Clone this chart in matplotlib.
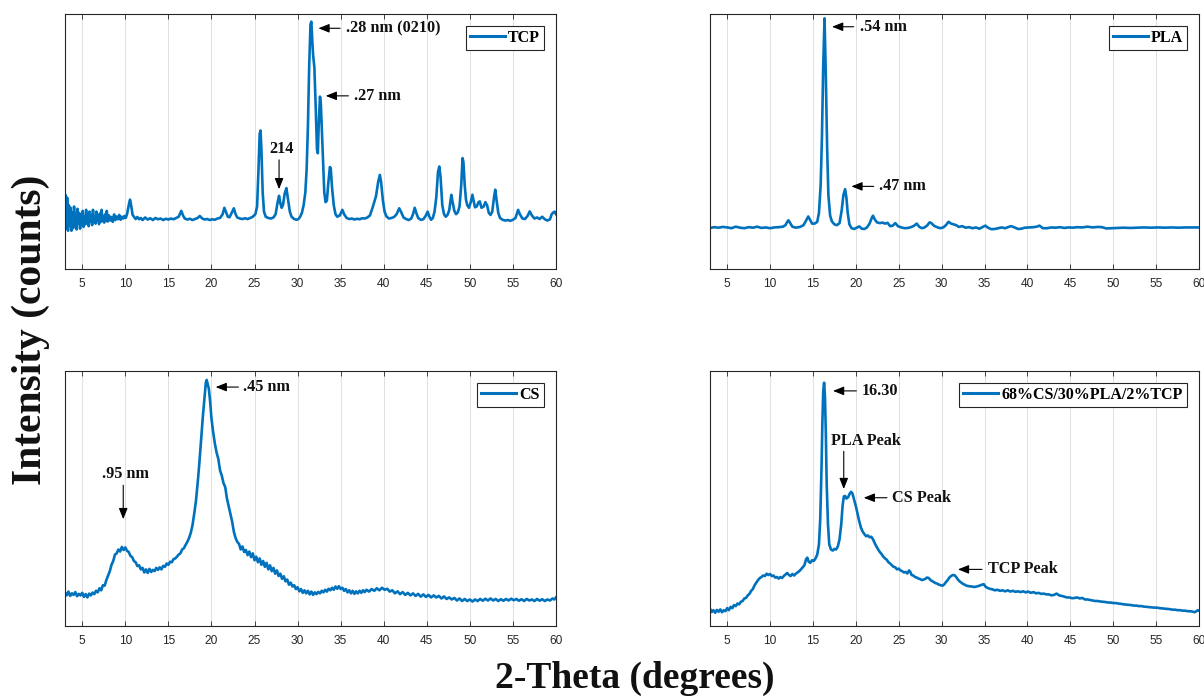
import matplotlib
matplotlib.use("Agg")
import matplotlib.pyplot as plt
import numpy as np

# ---------------- data (2-theta in degrees, intensity in arbitrary counts) ----------------
tcp_x = [3.0, 3.08, 3.15, 3.25, 3.35, 3.45, 3.55, 3.65, 3.75, 3.85, 3.95, 4.05, 4.15, 4.25, 4.35, 4.45,
         4.55, 4.65, 4.75, 4.85, 4.95, 5.05, 5.15, 5.25, 5.35, 5.45, 5.55, 5.65, 5.75, 5.85, 5.95, 6.05,
         6.15, 6.25, 6.35, 6.45, 6.55, 6.65, 6.75, 6.85, 6.95, 7.05, 7.15, 7.25, 7.35, 7.45, 7.55, 7.65,
         7.75, 7.85, 7.95, 8.1, 8.25, 8.4, 8.55, 8.7, 8.85, 9.0, 9.15, 9.3, 9.45, 9.6, 9.75, 9.9, 10.05,
         10.2, 10.4, 10.55, 10.7, 10.85, 11.0, 11.2, 11.4, 11.6, 11.8, 12.0, 12.3, 12.6, 12.9, 13.2, 13.5,
         13.8, 14.1, 14.4, 14.7, 15.0, 15.3, 15.6, 15.9, 16.2, 16.5, 16.7, 16.9, 17.2, 17.5, 17.8, 18.1,
         18.4, 18.65, 18.9, 19.2, 19.5, 19.8, 20.1, 20.4, 20.7, 21.0, 21.3, 21.5, 21.7, 21.9, 22.1, 22.35,
         22.6, 22.8, 23.0, 23.3, 23.6, 23.9, 24.2, 24.5, 24.8, 25.1, 25.3, 25.45, 25.6, 25.7, 25.8, 25.95,
         26.1, 26.3, 26.6, 26.9, 27.2, 27.45, 27.7, 27.85, 28.0, 28.15, 28.3, 28.5, 28.7, 28.9, 29.1, 29.3,
         29.6, 29.9, 30.1, 30.3, 30.5, 30.7, 30.9, 31.05, 31.2, 31.35, 31.5, 31.6, 31.7, 31.8, 31.95, 32.1,
         32.25, 32.35, 32.45, 32.6, 32.7, 32.8, 32.95, 33.1, 33.25, 33.4, 33.55, 33.75, 33.85, 34.0, 34.2,
         34.4, 34.6, 34.9, 35.2, 35.4, 35.7, 36.0, 36.3, 36.6, 36.9, 37.2, 37.5, 37.8, 38.1, 38.4, 38.7,
         38.9, 39.1, 39.35, 39.55, 39.7, 39.9, 40.1, 40.3, 40.6, 40.9, 41.2, 41.5, 41.8, 42.0, 42.3, 42.6,
         42.9, 43.2, 43.4, 43.6, 43.8, 44.0, 44.3, 44.6, 44.9, 45.1, 45.3, 45.5, 45.7, 45.9, 46.1, 46.3,
         46.45, 46.6, 46.8, 47.0, 47.2, 47.4, 47.6, 47.85, 48.0, 48.2, 48.4, 48.6, 48.8, 49.0, 49.15, 49.25,
         49.4, 49.55, 49.7, 49.9, 50.1, 50.3, 50.45, 50.6, 50.8, 51.0, 51.15, 51.35, 51.6, 51.8, 52.0, 52.2,
         52.4, 52.6, 52.8, 52.95, 53.1, 53.3, 53.5, 53.8, 54.1, 54.4, 54.7, 55.0, 55.3, 55.6, 55.8, 56.1,
         56.4, 56.7, 56.95, 57.2, 57.5, 57.8, 58.1, 58.4, 58.7, 59.0, 59.3, 59.5, 59.7, 59.85, 60.0]
tcp_y = [220, 290, 160, 280, 150, 250, 172, 240, 150, 222, 160, 245, 170, 218, 155, 236,
         178, 220, 158, 212, 175, 228, 165, 205, 175, 232, 180, 215, 168, 225, 186, 212,
         172, 232, 185, 206, 178, 225, 190, 210, 176, 218, 185, 232, 188, 205, 182, 214,
         192, 228, 186, 210, 190, 204, 185, 214, 192, 206, 195, 212, 193, 205, 198, 208, 200,
         215, 250, 272, 245, 212, 205, 196, 204, 195, 200, 192, 202, 194, 199, 192, 200,
         195, 198, 192, 197, 194, 198, 195, 200, 205, 228, 210, 198, 194, 197, 192, 196,
         200, 208, 199, 194, 196, 192, 195, 193, 198, 200, 215, 240, 222, 205, 203, 220,
         238, 215, 202, 198, 196, 199, 196, 200, 205, 215, 245, 380, 530, 543, 470, 300,
         225, 205, 200, 198, 202, 215, 265, 287, 258, 240, 250, 295, 317, 270, 225, 205,
         196, 193, 196, 205, 220, 250, 300, 390, 560, 800, 960, 970, 900, 840, 790, 640,
         470, 454, 560, 676, 650, 560, 420, 300, 262, 268, 330, 400, 395, 320, 250,
         215, 205, 210, 232, 215, 200, 196, 198, 194, 197, 195, 199, 198, 202, 210, 240,
         262, 285, 340, 369, 340, 270, 225, 207, 198, 200, 204, 215, 238, 225, 202, 196,
         192, 198, 215, 240, 218, 200, 193, 195, 210, 225, 205, 193, 200, 225, 280, 380,
         402, 360, 250, 215, 205, 212, 230, 291, 262, 228, 215, 222, 245, 330, 435, 420,
         330, 272, 250, 240, 262, 291, 265, 242, 245, 262, 265, 240, 245, 262, 250, 220,
         212, 225, 280, 311, 270, 220, 200, 193, 190, 192, 189, 193, 200, 232, 215, 198,
         196, 208, 226, 210, 198, 202, 196, 205, 195, 190, 195, 215, 222, 225, 215]

pla_x = [3.0, 3.5, 4.0, 4.5, 5.0, 5.5, 6.0, 6.5, 7.0, 7.5, 8.0, 8.5, 9.0, 9.5, 10.0, 10.5, 11.0, 11.5,
         11.8, 12.0, 12.15, 12.35, 12.6, 13.0, 13.5, 13.9, 14.2, 14.45, 14.7, 14.9, 15.2, 15.5, 15.7, 15.9,
         16.05, 16.2, 16.35, 16.5, 16.65, 16.8, 17.0, 17.2, 17.5, 17.8, 18.1, 18.35, 18.55, 18.75, 18.9,
         19.05, 19.25, 19.5, 19.8, 20.1, 20.4, 20.7, 21.0, 21.3, 21.6, 21.85, 22.0, 22.2, 22.45, 22.8, 23.1,
         23.4, 23.7, 24.0, 24.3, 24.6, 24.9, 25.3, 25.7, 26.1, 26.5, 26.8, 27.1, 27.4, 27.7, 28.0, 28.3,
         28.6, 28.8, 29.1, 29.4, 29.8, 30.2, 30.5, 30.8, 31.1, 31.4, 31.7, 32.0, 32.4, 32.8, 33.2, 33.6,
         34.0, 34.4, 34.8, 35.1, 35.4, 35.8, 36.2, 36.6, 37.0, 37.4, 37.8, 38.1, 38.5, 38.9, 39.3, 39.7,
         40.2, 40.7, 41.1, 41.4, 41.8, 42.3, 42.8, 43.3, 43.8, 44.3, 44.8, 45.3, 45.8, 46.4, 47.0, 47.6,
         48.2, 48.7, 49.2, 49.8, 50.5, 51.2, 52.0, 52.8, 53.6, 54.4, 55.2, 56.0, 56.8, 57.6, 58.4, 59.2, 60.0]
pla_y = [161, 164, 162, 165, 163, 160, 166, 162, 160, 164, 162, 166, 161, 163, 160, 163, 164, 166,
         172, 185, 191, 180, 166, 162, 165, 172, 190, 206, 190, 178, 178, 185, 220, 330,
         520, 800, 983, 760, 480, 290, 210, 187, 175, 172, 180, 230, 290, 313, 280,
         220, 175, 160, 157, 162, 167, 158, 157, 163, 178, 200, 209, 195, 183, 180, 182,
         178, 181, 168, 170, 180, 168, 163, 160, 161, 165, 170, 178, 165, 160, 163, 170,
         183, 180, 170, 165, 160, 163, 172, 185, 178, 175, 172, 165, 168, 162, 164, 160,
         163, 158, 165, 170, 162, 156, 157, 160, 163, 160, 165, 168, 163, 157, 158, 162,
         163, 164, 166, 170, 160, 160, 163, 162, 164, 161, 163, 162, 164, 163, 166, 163,
         165, 164, 159, 160, 161, 162, 161, 162, 163, 162, 163, 162, 163, 162, 163, 163, 163]

cs_x = [3.0, 3.2, 3.4, 3.6, 3.8, 4.0, 4.2, 4.4, 4.6, 4.8, 5.0, 5.2, 5.4, 5.6, 5.8, 6.0, 6.2, 6.4, 6.6,
        6.8, 7.0, 7.2, 7.4, 7.6, 7.8, 8.0, 8.2, 8.4, 8.6, 8.8, 9.0, 9.2, 9.4, 9.6, 9.8, 10.0, 10.2, 10.4,
        10.6, 10.8, 11.0, 11.2, 11.4, 11.6, 11.8, 12.0, 12.2, 12.4, 12.6, 12.8, 13.0, 13.2, 13.4, 13.6,
        13.8, 14.0, 14.2, 14.4, 14.6, 14.8, 15.0, 15.2, 15.4, 15.6, 15.8, 16.0, 16.2, 16.4, 16.6, 16.8,
        17.0, 17.2, 17.4, 17.6, 17.8, 18.0, 18.2, 18.4, 18.6, 18.8, 19.0, 19.2, 19.35, 19.45, 19.55, 19.7,
        19.85, 20.0, 20.2, 20.4, 20.6, 20.8, 21.0, 21.2, 21.4, 21.6, 21.8, 22.0, 22.2, 22.4, 22.6, 22.8,
        23.0, 23.2, 23.4, 23.6, 23.8, 24.0, 24.2, 24.4, 24.6, 24.8, 25.0, 25.2, 25.4, 25.6, 25.8, 26.0,
        26.2, 26.4, 26.6, 26.8, 27.0, 27.2, 27.4, 27.6, 27.8, 28.0, 28.2, 28.4, 28.6, 28.8, 29.0, 29.2,
        29.4, 29.6, 29.8, 30.0, 30.2, 30.4, 30.6, 30.8, 31.0, 31.2, 31.4, 31.6, 31.8, 32.0, 32.2, 32.4,
        32.6, 32.8, 33.0, 33.2, 33.4, 33.6, 33.8, 34.0, 34.2, 34.4, 34.6, 34.8, 35.0, 35.2, 35.4, 35.6,
        35.8, 36.0, 36.2, 36.4, 36.6, 36.8, 37.0, 37.2, 37.4, 37.6, 37.8, 38.0, 38.3, 38.6, 38.9, 39.2,
        39.5, 39.8, 40.1, 40.4, 40.7, 41.0, 41.3, 41.6, 41.9, 42.2, 42.5, 42.8, 43.1, 43.4, 43.7, 44.0,
        44.3, 44.6, 44.9, 45.2, 45.5, 45.8, 46.1, 46.4, 46.7, 47.0, 47.3, 47.6, 47.9, 48.2, 48.5, 48.8,
        49.1, 49.4, 49.7, 50.0, 50.3, 50.6, 50.9, 51.2, 51.5, 51.8, 52.1, 52.4, 52.7, 53.0, 53.3, 53.6,
        53.9, 54.2, 54.5, 54.8, 55.1, 55.4, 55.7, 56.0, 56.3, 56.6, 56.9, 57.2, 57.5, 57.8, 58.1, 58.4,
        58.7, 59.0, 59.3, 59.6, 59.8, 60.0]
cs_y = [132, 120, 135, 118, 128, 122, 133, 117, 126, 120, 130, 114, 125, 112, 127, 120, 131, 125, 138,
        132, 148, 140, 160, 158, 180, 198, 215, 240, 255, 280, 285, 300, 292, 310, 298, 308, 295, 290,
        275, 270, 255, 250, 235, 238, 222, 228, 210, 222, 208, 224, 212, 220, 215, 228,
        220, 230, 222, 236, 232, 245, 240, 252, 250, 262, 265, 272, 280, 285, 300, 305,
        318, 330, 345, 365, 395, 440, 490, 560, 640, 730, 820, 900, 955, 965, 950, 930,
        880, 815, 760, 715, 680, 655, 610, 590, 560, 545, 500, 470, 440, 410, 370, 345,
        330, 322, 300, 312, 290, 298, 278, 292, 270, 285, 258, 272, 250, 265, 240, 255,
        232, 248, 222, 238, 215, 228, 205, 218, 196, 205, 185, 195, 175, 182, 162, 170,
        155, 160, 145, 152, 136, 145, 130, 140, 128, 138, 124, 135, 122, 132, 125, 134,
        128, 138, 132, 142, 135, 146, 140, 150, 142, 155, 146, 156, 145, 150, 138, 145,
        132, 140, 128, 138, 126, 136, 128, 138, 130, 140, 133, 142, 135, 145, 138, 148,
        140, 150, 142, 146, 135, 140, 128, 136, 125, 133, 122, 130, 120, 128, 118, 126,
        115, 124, 114, 122, 112, 120, 112, 118, 108, 116, 106, 112, 104, 110, 100, 108,
        98, 106, 98, 104, 96, 104, 98, 106, 99, 107, 100, 108, 100, 106, 98, 105,
        99, 106, 100, 107, 101, 106, 99, 105, 98, 106, 100, 104, 98, 106, 99, 105,
        98, 104, 100, 108, 104, 112]

mix_x = [3.0, 3.2, 3.4, 3.6, 3.8, 4.0, 4.2, 4.4, 4.6, 4.8, 5.0, 5.2, 5.4, 5.6, 5.8, 6.0, 6.2, 6.4, 6.6,
         6.8, 7.0, 7.2, 7.4, 7.6, 7.8, 8.0, 8.2, 8.4, 8.6, 8.8, 9.0, 9.2, 9.4, 9.6, 9.8, 10.0, 10.2, 10.4,
         10.6, 10.8, 11.0, 11.2, 11.4, 11.6, 11.8, 12.0, 12.2, 12.4, 12.6, 12.8, 13.0, 13.2, 13.4, 13.6,
         13.8, 14.0, 14.2, 14.35, 14.5, 14.7, 14.9, 15.1, 15.3, 15.5, 15.7, 15.85, 16.0, 16.1, 16.2, 16.3,
         16.4, 16.5, 16.6, 16.75, 16.9, 17.1, 17.3, 17.5, 17.7, 17.9, 18.1, 18.3, 18.45, 18.6, 18.75, 18.9,
         19.1, 19.3, 19.45, 19.6, 19.8, 20.0, 20.2, 20.4, 20.6, 20.8, 21.0, 21.2, 21.4, 21.6, 21.8, 22.0,
         22.2, 22.4, 22.6, 22.8, 23.0, 23.2, 23.4, 23.6, 23.8, 24.0, 24.2, 24.4, 24.6, 24.8, 25.0, 25.2,
         25.4, 25.6, 25.8, 26.0, 26.2, 26.35, 26.5, 26.7, 26.9, 27.1, 27.3, 27.5, 27.7, 27.9, 28.1, 28.3,
         28.5, 28.7, 28.9, 29.1, 29.3, 29.5, 29.7, 29.9, 30.1, 30.3, 30.5, 30.7, 30.9, 31.1, 31.3, 31.5,
         31.7, 31.9, 32.1, 32.3, 32.5, 32.7, 32.9, 33.2, 33.5, 33.8, 34.1, 34.4, 34.7, 34.9, 35.1, 35.3,
         35.6, 35.9, 36.2, 36.5, 36.8, 37.1, 37.4, 37.7, 38.0, 38.3, 38.6, 38.9, 39.2, 39.5, 39.8, 40.1,
         40.4, 40.7, 41.0, 41.3, 41.6, 41.9, 42.2, 42.5, 42.8, 43.1, 43.4, 43.7, 44.0, 44.3, 44.6, 44.9,
         45.2, 45.5, 45.8, 46.1, 46.4, 46.7, 47.0, 47.3, 47.6, 47.9, 48.2, 48.5, 48.8, 49.1, 49.4, 49.7,
         50.0, 50.3, 50.6, 50.9, 51.2, 51.5, 51.8, 52.1, 52.4, 52.7, 53.0, 53.3, 53.6, 53.9, 54.2, 54.5,
         54.8, 55.1, 55.4, 55.7, 56.0, 56.3, 56.6, 56.9, 57.2, 57.5, 57.8, 58.1, 58.4, 58.7, 59.0, 59.3,
         59.5, 59.7, 59.85, 60.0]
mix_y = [68, 55, 62, 52, 63, 56, 65, 54, 62, 58, 70, 62, 75, 70, 82, 78, 88, 85, 95,
         98, 108, 110, 120, 126, 138, 145, 160, 170, 180, 188, 192, 198, 196, 205, 200, 204, 196, 198,
         190, 192, 186, 192, 188, 196, 202, 208, 200, 196, 204, 198, 205, 210, 215, 222,
         230, 238, 262, 268, 252, 248, 258, 255, 265, 280, 320, 420, 620, 800, 920, 954,
         900, 760, 560, 400, 320, 300, 296, 302, 300, 312, 340, 400, 470, 508, 510, 500,
         505, 520, 526, 520, 495, 470, 440, 410, 385, 370, 360, 352, 355, 348, 350, 340,
         325, 312, 300, 290, 282, 272, 265, 260, 250, 245, 238, 232, 230, 222, 225, 218,
         215, 210, 212, 206, 218, 212, 200, 198, 192, 190, 186, 184, 180, 182, 185, 190,
         188, 180, 176, 172, 168, 166, 162, 160, 158, 163, 172, 180, 190, 196, 200, 199,
         192, 182, 175, 170, 165, 162, 158, 156, 155, 153, 155, 158, 162, 164, 155, 150,
         146, 144, 140, 142, 138, 140, 136, 140, 135, 138, 134, 136, 133, 136, 132, 135,
         130, 133, 128, 130, 126, 127, 124, 124, 120, 122, 127, 120, 118, 115, 112, 112,
         109, 110, 112, 108, 110, 104, 104, 102, 100, 98, 98, 96, 95, 94, 92, 92,
         90, 90, 88, 87, 85, 84, 83, 82, 80, 80, 78, 78, 76, 75, 74, 73,
         72, 72, 70, 69, 68, 67, 66, 64, 64, 62, 62, 60, 60, 58, 58, 56,
         54, 58, 62, 60]

series_labels = ["TCP", "PLA", "CS", "68%CS/30%PLA/2%TCP"]
x_ticks = [5, 10, 15, 20, 25, 30, 35, 40, 45, 50, 55, 60]

# annotations: (text, arrow head x, arrow head y, arrow tail x, arrow tail y, text x, text y, ha)
tcp_notes = [(".28 nm (0210)", 32.42, 944, 34.94, 944, 35.64, 944, "left"),
             (".27 nm", 33.27, 679, 35.9, 679, 36.5, 679, "left"),
             ("214", 27.85, 313, 27.85, 428, 28.16, 470, "center")]
pla_notes = [(".54 nm", 17.23, 950, 19.75, 950, 20.45, 950, "left"),
             (".47 nm", 19.48, 324, 22.08, 324, 22.66, 324, "left")]
cs_notes = [(".45 nm", 20.49, 937, 23.13, 937, 23.7, 937, "left"),
            (".95 nm", 9.76, 419, 9.76, 552, 10.03, 595, "center")]
mix_notes = [("16.30", 17.34, 922, 20.06, 922, 20.72, 922, "left"),
             ("PLA Peak", 18.59, 537, 18.59, 685, 21.19, 725, "center"),
             ("CS Peak", 20.92, 503, 23.63, 503, 24.2, 503, "left"),
             ("TCP Peak", 31.9, 222, 34.7, 222, 35.36, 222, "left")]

# ---------------- styling ----------------
LINE = "#0072BD"
SERIF = ["Liberation Serif", "DejaVu Serif"]
SANS = ["Liberation Sans", "DejaVu Sans"]

fig = plt.figure(figsize=(12.04, 6.96), dpi=100)

W, H = 1204, 696
def rect(l, t, r, b):
    return [l / W, 1 - b / H, (r - l) / W, (b - t) / H]

panels = [
    (rect(65, 14, 556, 269), tcp_x, tcp_y, series_labels[0], tcp_notes),
    (rect(710, 14, 1199, 269), pla_x, pla_y, series_labels[1], pla_notes),
    (rect(65, 371, 556, 626), cs_x, cs_y, series_labels[2], cs_notes),
    (rect(710, 371, 1199, 626), mix_x, mix_y, series_labels[3], mix_notes),
]

for pos, xs, ys, lab, notes in panels:
    ax = fig.add_axes(pos)
    ax.plot(xs, ys, color=LINE, lw=1.9, label=lab, solid_joinstyle="round")
    ax.set_xlim(3, 60)
    ax.set_ylim(0, 1000)
    ax.set_xticks(x_ticks)
    ax.set_yticks([])
    ax.grid(axis="x", color="#dedede", lw=0.7)
    ax.set_axisbelow(True)
    ax.tick_params(axis="x", direction="in", top=True, length=3.5, width=0.6,
                   color="#262626", labelsize=8.6, labelcolor="#262626", pad=6.5)
    for lbl in ax.get_xticklabels():
        lbl.set_family(SANS)
    for sp in ax.spines.values():
        sp.set_color("#262626")
        sp.set_linewidth(0.8)
    for txt, hx, hy, tx, ty, txx, txy, ha in notes:
        ax.annotate("", xy=(hx, hy), xytext=(tx, ty),
                    arrowprops=dict(arrowstyle="-|>,head_length=0.55,head_width=0.22",
                                    color="black", lw=0.8, shrinkA=0, shrinkB=0,
                                    mutation_scale=12))
        ax.text(txx, txy, txt, ha=ha, va="center", fontsize=11.7, fontweight="bold",
                family=SERIF, color="#111111")
    leg = ax.legend(loc="upper right", prop=dict(family=SERIF, weight="bold", size=11.5),
                    handlelength=2.2, handletextpad=0.2, borderpad=0.25,
                    borderaxespad=0.75, fancybox=False, framealpha=1.0)
    leg.get_frame().set_edgecolor("#262626")
    leg.get_frame().set_linewidth(0.8)
    for lh in leg.get_lines():
        lh.set_linewidth(2.2)

fig.text(635 / W, 1 - 678 / H, "2-Theta (degrees)", ha="center", va="center",
         fontsize=27, fontweight="bold", family=SERIF, color="#111111")
fig.text(31 / W, 1 - 330 / H, "Intensity (counts)", ha="center", va="center",
         rotation=90, fontsize=30, fontweight="bold", family=SERIF, color="#111111")

fig.savefig("out.png", dpi=100)
